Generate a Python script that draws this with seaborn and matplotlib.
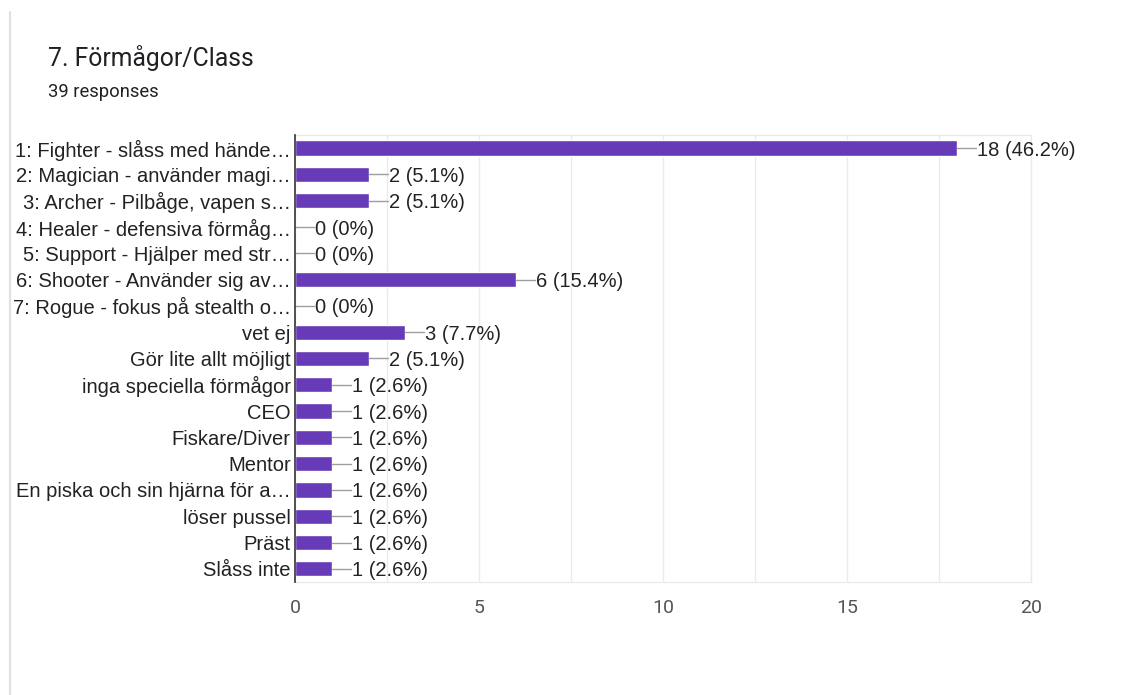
import matplotlib
matplotlib.use("Agg")
import matplotlib.pyplot as plt
import seaborn as sns
import pandas as pd
from matplotlib.ticker import MultipleLocator

categories = [
    "1: Fighter - slåss med hände…",
    "2: Magician - använder magi…",
    "3: Archer - Pilbåge, vapen s…",
    "4: Healer - defensiva förmåg…",
    "5: Support - Hjälper med str…",
    "6: Shooter - Använder sig av…",
    "7: Rogue - fokus på stealth o…",
    "vet ej",
    "Gör lite allt möjligt",
    "inga speciella förmågor",
    "CEO",
    "Fiskare/Diver",
    "Mentor",
    "En piska och sin hjärna för a…",
    "löser pussel",
    "Präst",
    "Slåss inte",
]
counts = [18, 2, 2, 0, 0, 6, 0, 3, 2, 1, 1, 1, 1, 1, 1, 1, 1]
pct_labels = ["46.2%", "5.1%", "5.1%", "0%", "0%", "15.4%", "0%", "7.7%", "5.1%",
              "2.6%", "2.6%", "2.6%", "2.6%", "2.6%", "2.6%", "2.6%", "2.6%"]
x_ticks = [0, 5, 10, 15, 20]
title = "7. Förmågor/Class"
subtitle = "39 responses"

df = pd.DataFrame({"category": categories, "count": counts})

sns.set_style("white")
plt.rcParams["font.family"] = ["Liberation Sans", "DejaVu Sans"]

fig = plt.figure(figsize=(11.34, 6.95), dpi=100)
fig.patch.set_facecolor("white")
ax = fig.add_axes([0.2601, 0.1626, 0.6490, 0.6432])

sns.barplot(data=df, y="category", x="count", orient="h", color="#673ab7",
            saturation=1, width=0.58, ax=ax, zorder=3)

ax.set_xlim(0, 20)
ax.set_ylim(len(categories) - 0.5, -0.5)
ax.xaxis.set_minor_locator(MultipleLocator(2.5))
ax.set_xticks(x_ticks)
ax.set_xticklabels([str(t) for t in x_ticks])
ax.grid(axis="x", which="both", color="#ebebeb", linewidth=1, zorder=0)
ax.set_axisbelow(True)
ax.set_xlabel("")
ax.set_ylabel("")

for s in ["top", "right", "bottom"]:
    ax.spines[s].set_color("#ebebeb")
    ax.spines[s].set_linewidth(1)
ax.spines["left"].set_color("#333333")
ax.spines["left"].set_linewidth(1.2)
ax.spines["left"].set_zorder(5)

ax.tick_params(axis="x", which="both", length=0, pad=12, labelsize=14, labelcolor="#555555")
ax.tick_params(axis="y", length=0, pad=3, labelsize=14.5, labelcolor="#222222")
for lbl in ax.get_xticklabels():
    lbl.set_family(["Roboto", "DejaVu Sans"])
for lbl in ax.get_yticklabels():
    lbl.set_va("center_baseline")

# value labels with leader lines
px_per_unit = (0.6490 * 1134) / 20.0
lead = 19 / px_per_unit
for i, (c, p) in enumerate(zip(counts, pct_labels)):
    ax.plot([c, c + lead], [i, i], color="#9e9e9e", lw=1, zorder=4, clip_on=False)
    ax.text(c + lead + 0.03, i, f"{c} ({p})", va="center_baseline", ha="left",
            fontsize=14.5, color="#222222", zorder=4)

fig.text(48 / 1134, 1 - 58 / 695, title, fontsize=17.8, color="#202124",
         va="center", ha="left", family=["Roboto", "DejaVu Sans"])
fig.text(48 / 1134, 1 - 92 / 695, subtitle, fontsize=13.2, color="#202124",
         va="center", ha="left", family=["Roboto", "DejaVu Sans"])

# card edge
fig.add_artist(plt.Line2D([10 / 1134, 10 / 1134], [0, 1 - 12 / 695],
                          transform=fig.transFigure, color="#e0e0e0", lw=1.5))

fig.savefig("out.png", dpi=100, facecolor="white")
